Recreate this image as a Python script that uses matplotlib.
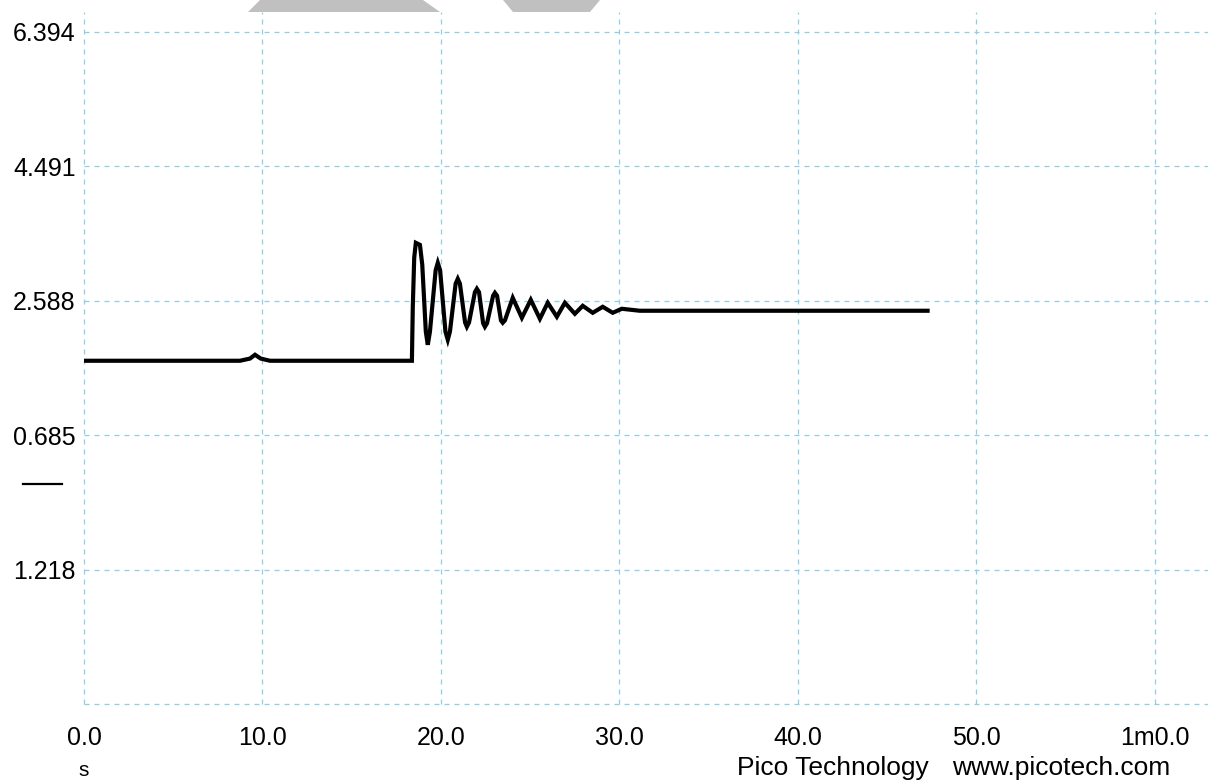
import matplotlib
matplotlib.use('Agg')
import matplotlib.pyplot as plt
import matplotlib.transforms as mtransforms
from matplotlib.patches import Polygon

plt.rcParams['font.family'] = ['Liberation Sans', 'DejaVu Sans']

# signal trace (time in ms, value)
t = [0.0, 8.74, 9.30, 9.58, 9.90, 10.42, 18.37, 18.42, 18.50, 18.59, 18.82, 18.95,
     19.15, 19.26, 19.38, 19.70, 19.82, 19.95, 20.25, 20.38, 20.50,
     20.82, 20.94, 21.06, 21.35, 21.45, 21.57, 21.90, 22.01, 22.13, 22.36, 22.46, 22.58,
     22.92, 23.02, 23.14, 23.36, 23.46, 23.58, 24.02, 24.53, 25.03, 25.54,
     25.98, 26.49, 26.94, 27.50, 27.94, 28.50, 29.06, 29.62, 30.13, 31.14, 47.26]
v = [1.739, 1.739, 1.770, 1.824, 1.770, 1.739, 1.739, 2.503, 3.200, 3.409, 3.380, 3.100,
     2.150, 1.965, 2.150, 3.020, 3.126, 3.020, 2.150, 2.036, 2.150,
     2.830, 2.899, 2.830, 2.280, 2.220, 2.280, 2.710, 2.758, 2.710, 2.270, 2.220, 2.270,
     2.660, 2.701, 2.660, 2.310, 2.277, 2.310, 2.630, 2.347, 2.602, 2.333,
     2.560, 2.362, 2.560, 2.404, 2.517, 2.418, 2.503, 2.418, 2.475, 2.447, 2.447]

x_ticks = [0, 10, 20, 30, 40, 50, 60]
x_labels = ['0.0', '10.0', '20.0', '30.0', '40.0', '50.0', '1m0.0']
y_ticks = [6.394, 4.491, 2.588, 0.685, -1.218, -3.121]
y_labels = ['6.394', '4.491', '2.588', '0.685', '1.218', '']

W, H = 1208, 780
fig = plt.figure(figsize=(W / 100, H / 100), dpi=100)
ax = fig.add_axes([84 / W, (H - 704) / H, (W - 84) / W, (704 - 12) / H])

ax.plot(t, v, color='black', lw=3.0, solid_joinstyle='miter')

ax.set_xlim(0, 62.97)
ax.set_ylim(-3.121, 6.677)
ax.set_xticks(x_ticks)
ax.set_xticklabels(x_labels)
ax.set_yticks(y_ticks)
ax.set_yticklabels(y_labels)
ax.tick_params(length=0, labelsize=18)
ax.tick_params(axis='y', pad=6)
ax.tick_params(axis='x', pad=16)
for s in ax.spines.values():
    s.set_visible(False)
ax.grid(True, color='#8ccfe6', lw=0.9, linestyle=(0, (4, 4)))
for gl in ax.get_xgridlines() + ax.get_ygridlines():
    gl.set_clip_on(False)

# zero marker left of the axis
blend = mtransforms.blended_transform_factory(ax.transAxes, ax.transData)
ax.plot([-0.054, -0.0196], [0, 0], color='black', lw=1.6, transform=blend,
        clip_on=False)

# bottom texts
fig.text(84 / W, 1 - 770 / H, 's', ha='center', va='center', fontsize=15)
fig.text(929 / W, 1 - 768 / H, 'Pico Technology', ha='right', va='center', fontsize=19)
fig.text(1170 / W, 1 - 768 / H, 'www.picotech.com', ha='right', va='center', fontsize=19)

# watermark fragments at top
for pts in ([(248, 12), (260, 0), (423, 0), (440, 12)],
            [(513, 12), (503, 0), (600, 0), (590, 12)]):
    fig.patches.append(Polygon([(x / W, 1 - y / H) for x, y in pts], closed=True,
                               transform=fig.transFigure, color='#c0c0c0', lw=0))

fig.savefig('out.png', dpi=100)
